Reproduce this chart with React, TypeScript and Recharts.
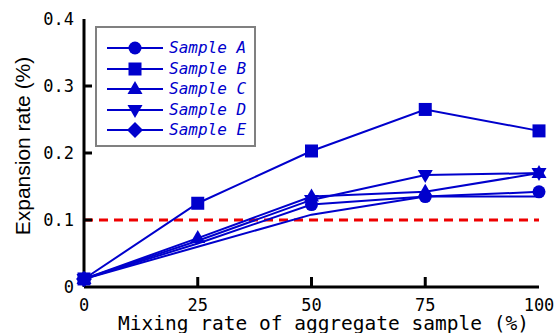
import React from "react";
import {
  LineChart,
  Line,
  XAxis,
  YAxis,
  ReferenceLine,
  Legend,
} from "recharts";

// mixing rate of aggregate sample (%)
const mixingRates = [0, 25, 50, 75, 100];

// expansion rate (%)
const sampleA = [0.012, 0.065, 0.123, 0.135, 0.142];
const sampleB = [0.012, 0.125, 0.203, 0.265, 0.233];
const sampleC = [0.012, 0.073, 0.135, 0.142, 0.17];
const sampleD = [0.012, 0.069, 0.13, 0.167, 0.17];
const sampleE = [0.012, 0.06, 0.108, 0.135, 0.135];

const xTicks = [0, 25, 50, 75, 100];
const yTicks = [0, 0.1, 0.2, 0.3, 0.4];

const BLUE = "#0000cc";
const MONO = "'DejaVu Sans Mono', monospace";

type Shape = "circle" | "square" | "triangle" | "down" | "diamond";

const series: { key: string; name: string; values: number[]; shape: Shape; marked: boolean[] }[] = [
  { key: "a", name: "Sample A", values: sampleA, shape: "circle", marked: [true, false, true, true, true] },
  { key: "b", name: "Sample B", values: sampleB, shape: "square", marked: [true, true, true, true, true] },
  { key: "c", name: "Sample C", values: sampleC, shape: "triangle", marked: [true, true, true, true, true] },
  { key: "d", name: "Sample D", values: sampleD, shape: "down", marked: [true, false, true, true, true] },
  { key: "e", name: "Sample E", values: sampleE, shape: "diamond", marked: [true, false, false, false, false] },
];

const data = mixingRates.map((x, i) => {
  const row: Record<string, number> = { x };
  series.forEach((s) => (row[s.key] = s.values[i]));
  return row;
});

function Marker({ shape, cx, cy }: { shape: Shape; cx: number; cy: number }) {
  switch (shape) {
    case "circle":
      return <circle cx={cx} cy={cy} r={6.5} fill={BLUE} />;
    case "square":
      return <rect x={cx - 6.5} y={cy - 6.5} width={13} height={13} fill={BLUE} />;
    case "triangle":
      return <polygon points={`${cx},${cy - 8} ${cx - 7.5},${cy + 5} ${cx + 7.5},${cy + 5}`} fill={BLUE} />;
    case "down":
      return <polygon points={`${cx},${cy + 8} ${cx - 7.5},${cy - 5} ${cx + 7.5},${cy - 5}`} fill={BLUE} />;
    default:
      return <polygon points={`${cx},${cy - 8} ${cx + 8},${cy} ${cx},${cy + 8} ${cx - 8},${cy}`} fill={BLUE} />;
  }
}

const makeDot = (shape: Shape, marked: boolean[]) => (props: any) => {
  const { cx, cy, index } = props;
  if (!marked[index] || cx == null || cy == null) return <g key={`dot-${index}`} />;
  return (
    <g key={`dot-${index}`}>
      <Marker shape={shape} cx={cx} cy={cy} />
    </g>
  );
};

// left axis: labels outside, tick marks inside
const LeftTick = (props: any) => {
  const { x, y, payload } = props;
  const v = payload.value;
  const inner = v > 0 && v < 0.4;
  return (
    <g>
      <text x={x} y={y} dy="0.36em" textAnchor="end" fontFamily={MONO} fontSize={17} fill="#000">
        {v === 0 ? "0" : v.toFixed(1)}
      </text>
      {inner && <line x1={x + 10} x2={x + 18} y1={y} y2={y} stroke="#000" strokeWidth={3} />}
    </g>
  );
};

const RightTick = (props: any) => {
  const { x, y, payload } = props;
  const v = payload.value;
  if (!(v > 0 && v < 0.4)) return <g />;
  return <line x1={x - 8} x2={x} y1={y} y2={y} stroke="#000" strokeWidth={3} />;
};

const BottomTick = (props: any) => {
  const { x, y, payload } = props;
  const v = payload.value;
  const inner = v > 0 && v < 100;
  return (
    <g>
      <text x={x} y={y + 24} textAnchor="middle" fontFamily={MONO} fontSize={17} fill="#000">
        {v}
      </text>
      {inner && <line x1={x} x2={x} y1={y} y2={y - 10} stroke="#000" strokeWidth={3} />}
    </g>
  );
};

const TopTick = (props: any) => {
  const { x, y, payload } = props;
  const v = payload.value;
  if (!(v > 0 && v < 100)) return <g />;
  return <line x1={x} x2={x} y1={y} y2={y + 8} stroke="#000" strokeWidth={3} />;
};

const LegendBox = () => (
  <div
    style={{
      border: "2px solid #808080",
      background: "#fff",
      width: 157,
      height: 117,
      boxSizing: "content-box",
      paddingTop: 0,
    }}
  >
    {series.map((s, i) => (
      <div key={s.key} style={{ position: "absolute", left: 12, top: 12 + i * 20.5, height: 20, display: "flex", alignItems: "center" }}>
        <svg width={58} height={20} style={{ display: "block" }}>
          <line x1={0} x2={56} y1={10} y2={10} stroke={BLUE} strokeWidth={2} />
          <Marker shape={s.shape} cx={28} cy={10} />
        </svg>
        <span
          style={{
            marginLeft: 4,
            fontFamily: MONO,
            fontStyle: "italic",
            fontSize: 16,
            color: BLUE,
            lineHeight: "20px",
            whiteSpace: "nowrap",
          }}
        >
          {s.name}
        </span>
      </div>
    ))}
  </div>
);

export default function App() {
  return (
    <div style={{ position: "absolute", left: 0, top: 0, background: "#fff" }}>
      <LineChart width={555} height={333} data={data} margin={{ top: 19, right: 16, left: 0, bottom: 0 }}>
        <XAxis
          dataKey="x"
          type="number"
          domain={[0, 100]}
          ticks={xTicks}
          height={46}
          tickSize={0}
          tickMargin={0}
          tickLine={false}
          axisLine={{ stroke: "#000", strokeWidth: 3 }}
          tick={<BottomTick />}
          label={{
            value: "Mixing rate of aggregate sample (%)",
            position: "insideBottom",
            offset: 3,
            dx: 12,
            fontFamily: MONO,
            fontSize: 19.5,
            fill: "#000",
          }}
        />
        <XAxis
          xAxisId="top"
          orientation="top"
          dataKey="x"
          type="number"
          domain={[0, 100]}
          ticks={xTicks}
          height={0}
          tickSize={0}
          tickMargin={0}
          tickLine={false}
          axisLine={{ stroke: "#000", strokeWidth: 3 }}
          tick={<TopTick />}
        />
        <YAxis
          type="number"
          domain={[0, 0.4]}
          ticks={yTicks}
          width={84}
          tickSize={0}
          tickMargin={10}
          tickLine={false}
          axisLine={{ stroke: "#000", strokeWidth: 3 }}
          tick={<LeftTick />}
          label={{
            content: () => (
              <text
                x={30}
                y={146}
                transform="rotate(-90 30 146)"
                textAnchor="middle"
                fontFamily="'Liberation Sans', Arial, sans-serif"
                fontSize={21}
                fill="#000"
              >
                Expansion rate (%)
              </text>
            ),
          }}
        />
        <YAxis
          yAxisId="right"
          orientation="right"
          type="number"
          domain={[0, 0.4]}
          ticks={yTicks}
          width={0}
          tickSize={0}
          tickMargin={0}
          tickLine={false}
          axisLine={{ stroke: "#000", strokeWidth: 3 }}
          tick={<RightTick />}
        />
        <ReferenceLine y={0.1} stroke="#ee0000" strokeWidth={3} strokeDasharray="9 6" />
        {series.map((s) => (
          <Line
            key={s.key}
            dataKey={s.key}
            name={s.name}
            stroke={BLUE}
            strokeWidth={2}
            dot={makeDot(s.shape, s.marked)}
            activeDot={false}
            isAnimationActive={false}
          />
        ))}
        <Legend
          layout="vertical"
          align="center"
          verticalAlign="middle"
          wrapperStyle={{ left: 95, top: 26, width: 161, height: 121 }}
          content={() => <LegendBox />}
        />
      </LineChart>
    </div>
  );
}
